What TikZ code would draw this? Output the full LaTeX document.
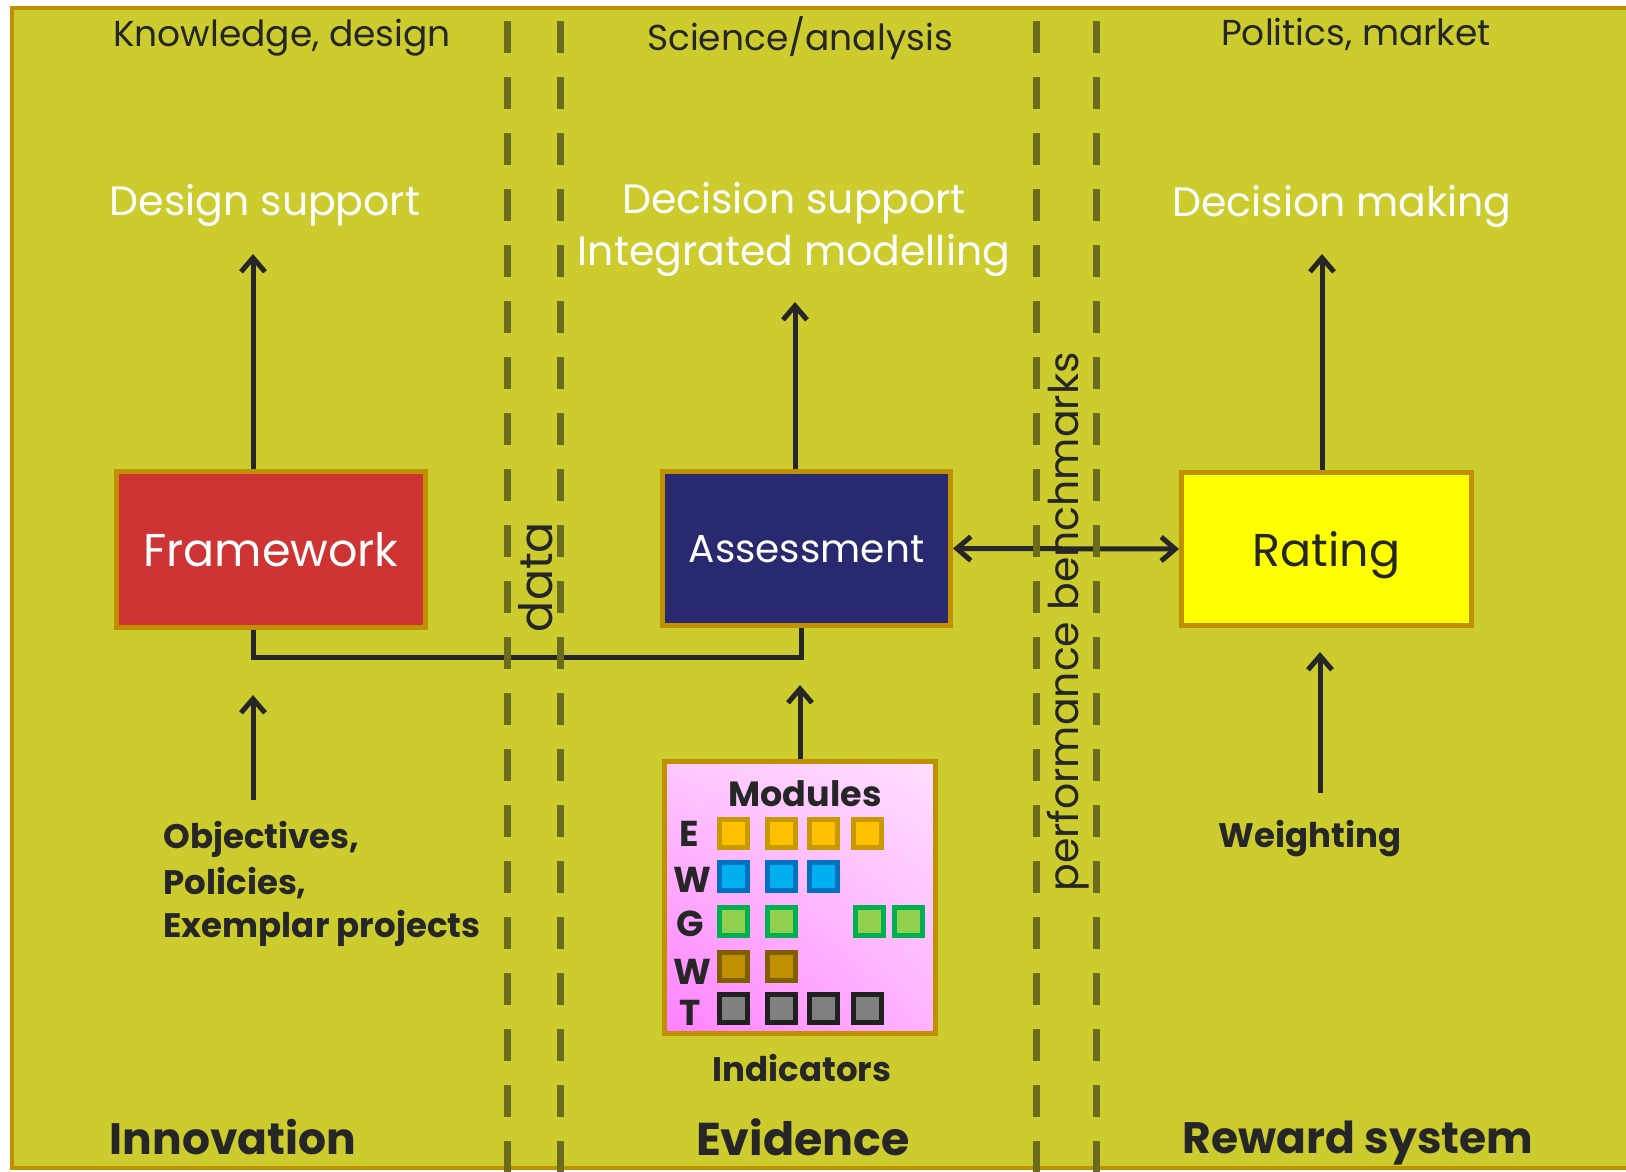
\documentclass[tikz,border=0pt]{standalone}
\usepackage{fontspec}
\setmainfont{Poppins}
\usetikzlibrary{arrows.meta,shadings}
\newcommand\fsz[1]{\fontsize{#1}{#1}\selectfont}
\definecolor{bgol}{RGB}{204,204,46}
\definecolor{gold}{RGB}{191,144,0}
\definecolor{dash}{RGB}{107,107,30}
\definecolor{ink}{RGB}{38,38,38}
\definecolor{fwred}{RGB}{207,52,52}
\definecolor{asblue}{RGB}{41,41,112}
\definecolor{rtyel}{RGB}{255,255,0}
\definecolor{pkUL}{RGB}{255,200,255}
\definecolor{pkUR}{RGB}{255,222,255}
\definecolor{pkLL}{RGB}{255,128,255}
\definecolor{pkLR}{RGB}{255,180,255}
\definecolor{eD}{RGB}{200,154,0}
\definecolor{eF}{RGB}{255,192,0}
\definecolor{wD}{RGB}{0,112,192}
\definecolor{wF}{RGB}{0,176,240}
\definecolor{gD}{RGB}{0,176,80}
\definecolor{gF}{RGB}{146,208,80}
\definecolor{bD}{RGB}{127,96,0}
\definecolor{bF}{RGB}{192,144,0}
\definecolor{tD}{RGB}{32,32,32}
\definecolor{tF}{RGB}{128,128,128}
\begin{document}
\begin{tikzpicture}[x=1pt,y=-1pt,
  box/.style={draw=gold,line width=5pt,inner sep=0pt,align=center,text depth=0pt},
  arr/.style={draw=ink,line width=5pt,-{Straight Barb[length=14pt,width=24pt,line width=5pt]}},
  darr/.style={draw=ink,line width=5pt,{Straight Barb[length=14pt,width=24pt,line width=5pt]}-{Straight Barb[length=14pt,width=24pt,line width=5pt]}},
  conn/.style={draw=ink,line width=5pt},
  sep/.style={draw=dash,line width=7pt,dash pattern=on 32pt off 24pt},
  toplab/.style={text=ink,font=\fsz{36}},
  whitelab/.style={text=white,font=\fsz{41}},
  boldlab/.style={text=ink,font=\fsz{34}\bfseries},
  biglab/.style={text=ink,font=\fsz{44}\bfseries,inner sep=0pt},
  sq/.style={line width=5pt}
]
\useasboundingbox (0,0) rectangle (1626,1171);
\fill[white] (0,0) rectangle (1626,1171);
\draw[gold,line width=4pt,fill=bgol] (12,8) rectangle (1650,1168);

% boxes
\node[box,fill=fwred,minimum width=309pt,minimum height=156pt,text=white,font=\fsz{46}] (fw) at (271,549.5) {Framework};
\node[box,fill=asblue,minimum width=288pt,minimum height=154pt,text=white,font=\fsz{39}] (as) at (806.5,548.5) {Assessment};
\node[box,fill=rtyel,minimum width=290pt,minimum height=153pt,text=ink,font=\fsz{46}] (rt) at (1326.5,549) {Rating};
\node[box,minimum width=271pt,minimum height=272pt,
  upper left=pkUL, upper right=pkUR, lower left=pkLL, lower right=pkLR] (md) at (800,897.5) {};

\coordinate (dsA) at (253,254);
\coordinate (dcA) at (795,302);
\coordinate (dmA) at (1322,254);
\coordinate (jn) at (801,657);
\coordinate (obA) at (253,695);
\coordinate (obB) at (253,800);
\coordinate (mdA) at (800,685);
\coordinate (wtA) at (1320,652);
\coordinate (wtB) at (1320,793);

\draw[arr] (fw.north -| dsA) -- (dsA);
\draw[arr] (as.north -| dcA) -- (dcA);
\draw[arr] (rt.north -| dmA) -- (dmA);
\draw[conn] (fw.south -| dsA) |- (jn) -- (as.south -| jn);
\draw[arr] (obB) -- (obA);
\draw[arr] (md.north -| mdA) -- (mdA);
\draw[arr] (wtB) -- (wtA);
\draw[darr] (as.east) -- (rt.west);

% dashed separators
\draw[sep] (507,21) -- (507,1200);
\draw[sep] (560,21) -- (560,1200);
\draw[sep] (1036,21) -- (1036,1200);
\draw[sep] (1096,21) -- (1096,1200);

% labels
\node[toplab] (kd) at (282,38) {Knowledge, design};
\node[toplab] (sa) at (800,38) {Science/analysis};
\node[toplab] (pm) at (1356,34) {Politics, market};
\node[whitelab] (ds) at (265,205) {Design support};
\node[whitelab] (dsu) at (794,203) {Decision support};
\node[whitelab] (im) at (794,255) {Integrated modelling};
\node[whitelab] (dm) at (1342,206) {Decision making};
\node[text=ink,font=\fsz{46},rotate=90] (data) at (536,577) {data};
\node[text=ink,font=\fsz{41},rotate=90] (pb) at (1068,622) {performance benchmarks};
\node[boldlab,anchor=west,align=left] (ob) at (160,884) {Objectives,\\[9pt]Policies,\\[9pt]Exemplar projects};
\node[boldlab] (wt) at (1310,839) {Weighting};
\node[boldlab,font=\fsz{35}\bfseries] (mt) at (805,794) {Modules};
\node[boldlab] (ind) at (802,1068) {Indicators};
\node[biglab] (inn) at (233,1137) {Innovation};
\node[biglab,font=\fsz{46}\bfseries] (ev) at (803,1137) {Evidence};
\node[biglab] (rw) at (1358,1143) {Reward system};

% module rows
\node[boldlab,font=\fsz{36}\bfseries] (lE) at (689,834) {E};
\node[boldlab,font=\fsz{36}\bfseries] (lW) at (692,880) {W};
\node[boldlab,font=\fsz{36}\bfseries] (lG) at (690,924) {G};
\node[boldlab,font=\fsz{36}\bfseries] (lW2) at (692,972) {W};
\node[boldlab,font=\fsz{36}\bfseries] (lT) at (690,1013) {T};
\foreach \x in {733,781,823.5,867}
  \draw[sq,draw=eD,fill=eF] (\x-14,819) rectangle (\x+14,847);
\foreach \x in {733,781,823.5}
  \draw[sq,draw=wD,fill=wF] (\x-14,862.5) rectangle (\x+14,890.5);
\foreach \x in {733,781,869,908}
  \draw[sq,draw=gD,fill=gF] (\x-14,907) rectangle (\x+14,935);
\foreach \x in {733,781}
  \draw[sq,draw=bD,fill=bF] (\x-14,952) rectangle (\x+14,980);
\foreach \x in {733,781,823.5,867}
  \draw[sq,draw=tD,fill=tF] (\x-14,994) rectangle (\x+14,1022);
\end{tikzpicture}
\end{document}
